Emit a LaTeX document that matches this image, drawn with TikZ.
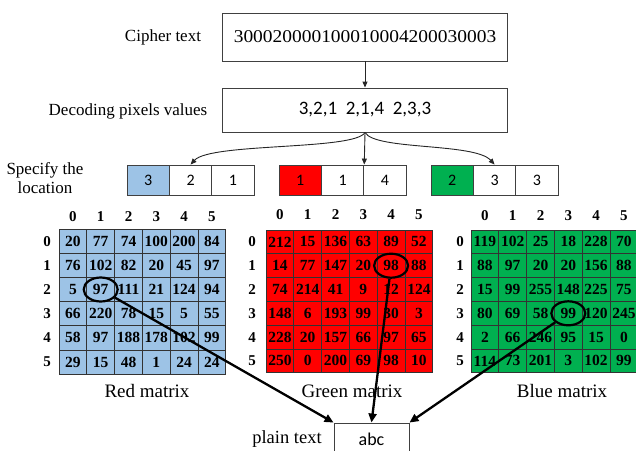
\documentclass[tikz,border=0pt]{standalone}
\usepackage{fontspec}
\setmainfont{Liberation Serif}
\newfontfamily\calfont{Carlito}
\usetikzlibrary{arrows.meta,shapes.geometric}
\definecolor{mblue}{RGB}{157,195,230}
\definecolor{mred}{RGB}{255,0,0}
\definecolor{mgreen}{RGB}{0,176,80}
\definecolor{edge}{RGB}{64,64,64}
\tikzset{
  box/.style={draw=edge, line width=0.9pt, fill=white, inner sep=0pt},
  lbl/.style={font=\fontsize{17}{19.5}\selectfont, inner sep=0pt, align=center},
  mlbl/.style={font=\fontsize{19}{22}\selectfont, inner sep=0pt},
  scell/.style={draw=edge, line width=0.9pt, minimum width=42.4pt, minimum height=30pt, inner sep=0pt, font=\calfont\fontsize{16}{18}\selectfont},
  mcell/.style={draw=black!80, line width=0.8pt, inner sep=0pt, font=\bfseries\fontsize{15.5}{17}\selectfont},
  hdr/.style={font=\bfseries\fontsize{15}{17}\selectfont, inner sep=0pt},
  thin arrow/.style={draw=black!85, line width=0.9pt, -{Triangle[length=6pt,width=5pt]}},
  bold arrow/.style={draw=black, line width=2.3pt, -{Triangle[length=9pt,width=8pt]}},
  ring/.style={ellipse, draw=black, line width=2.2pt, minimum width=34pt, minimum height=24pt, inner sep=0pt}
}
\newcommand\drawmat[7]{%
  \foreach \r/\vals in {#7} {
    \foreach \v [count=\c from 0] in \vals {
      \node[mcell, fill=#2, minimum width=#5pt, minimum height=#6pt] (#1-\r-\c) at ({#3+#5*(\c+0.5)}, {#4+#6*(\r+0.5)}) {\v};
    }
  }
}
\begin{document}
\begin{tikzpicture}[x=1pt,y=-1pt]
\useasboundingbox (0,0) rectangle (636,450);

% top boxes
\node[box, minimum width=285pt, minimum height=48pt] (cipher) at (365,37)
  {\scalebox{1.08}[1]{\fontsize{18}{20}\selectfont 300020000100010004200030003}};
\node[lbl] (cipherlbl) at (163,37) {Cipher text};
\node[box, minimum width=285pt, minimum height=44pt] (decode) at (365,110)
  {\calfont\fontsize{19}{21}\selectfont 3,2,1\ \ 2,1,4\ \ 2,3,3};
\node[lbl] (decodelbl) at (128,111) {Decoding pixels values};
\draw[thin arrow] (cipher) -- (decode);

% location boxes
\node[lbl] (speclbl) at (45,178) {Specify the\\location};
\node[scell, fill=mblue] (b1) at (148.2,180) {3};
\node[scell] (b2) at (190.6,180) {2};
\node[scell] (b3) at (233.0,180) {1};
\node[scell, fill=mred] (r1) at (300.2,180) {1};
\node[scell] (r2) at (342.6,180) {1};
\node[scell] (r3) at (385.0,180) {4};
\node[scell, fill=mgreen] (g1) at (452.2,180) {2};
\node[scell] (g2) at (494.6,180) {3};
\node[scell] (g3) at (537.0,180) {3};

\draw[thin arrow] (decode.south) .. controls +(-10,18) and +(20,-22) .. (b2.north);
\draw[thin arrow] (decode.south) -- (r2.north east);
\draw[thin arrow] (decode.south) .. controls +(10,18) and +(-20,-22) .. (g2.north);

% matrices
\drawmat{R}{mblue}{59}{229}{27.8}{24.2}{0/{20,77,74,100,200,84},1/{76,102,82,20,45,97},2/{5,97,111,21,124,94},3/{66,220,78,15,5,55},4/{58,97,188,178,102,99},5/{29,15,48,1,24,24}}
\drawmat{G}{mred}{266}{230}{27.8}{23.8}{0/{212,15,136,63,89,52},1/{14,77,147,20,98,88},2/{74,214,41,9,12,124},3/{148,6,193,99,30,3},4/{228,20,157,66,97,65},5/{250,0,200,69,98,10}}
\drawmat{B}{mgreen}{471}{230}{27.8}{23.8}{0/{119,102,25,18,228,70},1/{88,97,20,20,156,88},2/{15,99,255,148,225,75},3/{80,69,58,99,120,245},4/{2,66,246,95,15,0},5/{114,73,201,3,102,99}}

\foreach \c in {0,...,5} {
  \node[hdr] (Rh\c) at ({59+27.8*(\c+0.5)},217) {\c};
  \node[hdr] (Gh\c) at ({266+27.8*(\c+0.5)},215) {\c};
  \node[hdr] (Bh\c) at ({471+27.8*(\c+0.5)},216) {\c};
  \node[hdr] (Rr\c) at (47,{229+24.2*(\c+0.5)}) {\c};
  \node[hdr] (Gr\c) at (252,{230+23.8*(\c+0.5)}) {\c};
  \node[hdr] (Br\c) at (460,{230+23.8*(\c+0.5)}) {\c};
}

\node[mlbl] (redlbl) at (147,391) {Red matrix};
\node[mlbl] (greenlbl) at (352,391) {Green matrix};
\node[mlbl] (bluelbl) at (562,391) {Blue matrix};

% rings
\node[ring] (e1) at (R-2-1) {};
\node[ring] (e2) at (G-1-4) {};
\node[ring] (e3) at (B-3-3) {};

% plain text
\node[box, minimum width=75pt, minimum height=32pt] (plain) at (371.5,439) {\calfont\fontsize{18}{20}\selectfont abc};
\node[lbl, font=\fontsize{18.5}{20}\selectfont] (plainlbl) at (287,439) {plain text};

\draw[bold arrow] (e1) -- (plain.north west);
\draw[bold arrow] (e2) -- (plain.north);
\draw[bold arrow] (e3) -- (plain.north east);
\end{tikzpicture}
\end{document}
